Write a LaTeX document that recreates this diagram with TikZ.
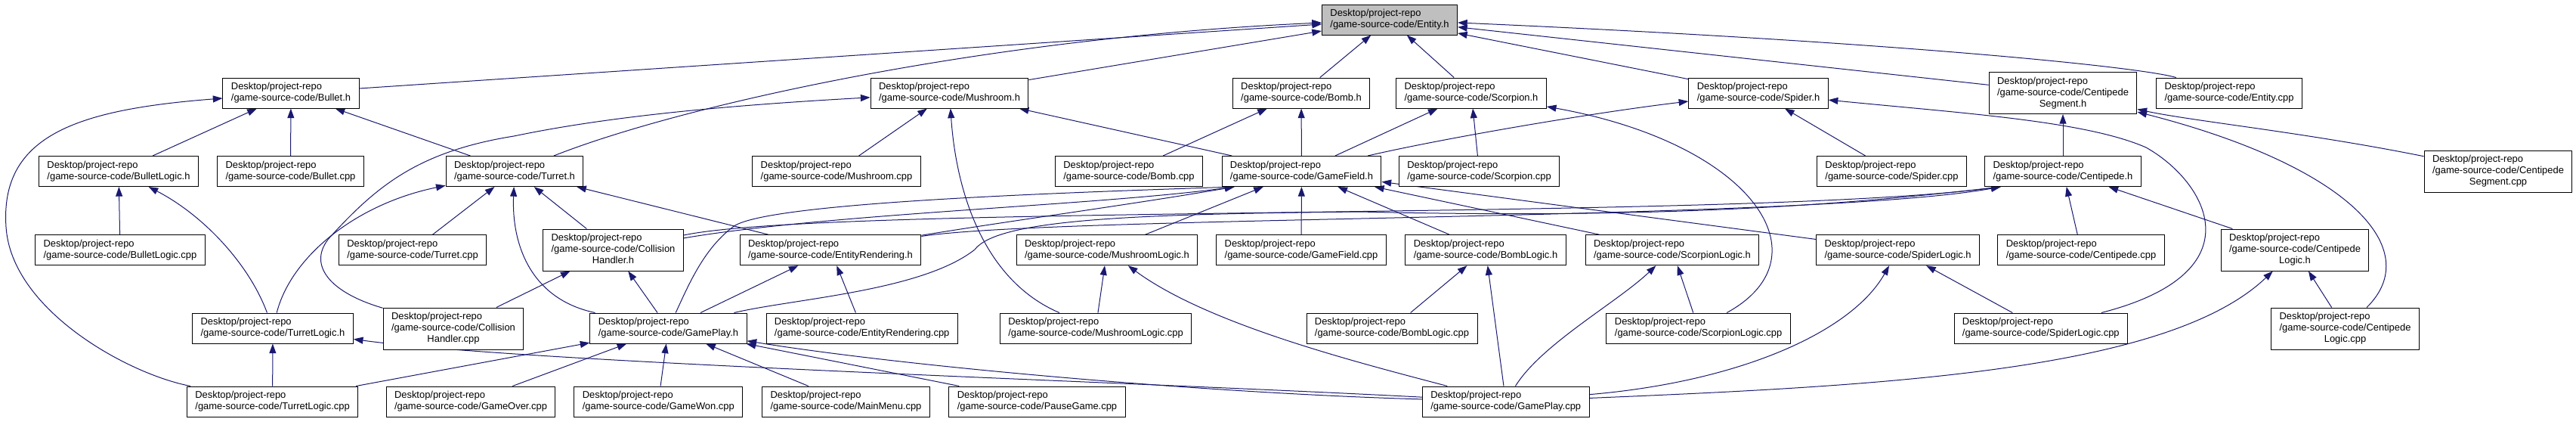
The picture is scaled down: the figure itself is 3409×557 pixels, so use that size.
\documentclass[tikz,border=0pt]{standalone}
\usepackage{fontspec}
\setmainfont{Liberation Sans}
\usetikzlibrary{arrows.meta,backgrounds}

\definecolor{edgenavy}{HTML}{191970}
\definecolor{focusgray}{HTML}{BFBFBF}

\begin{document}
\begin{tikzpicture}[x=0.75pt,y=-0.75pt]
\tikzset{
  filenode/.style={draw=black,fill=white,line width=0.75pt,inner xsep=8.2pt,inner ysep=2pt,minimum height=30pt,align=left,font=\fontsize{9.7}{11.25}\selectfont},
  tallnode/.style={draw=black,fill=white,line width=0.75pt,inner xsep=8.2pt,inner ysep=2pt,minimum height=41.25pt,font=\fontsize{9.7}{11.25}\selectfont},
  focusnode/.style={filenode,fill=focusgray},
  dep/.style={draw=edgenavy,line width=0.75pt,-{Triangle[length=9.5pt,width=6.75pt]}}
}
\useasboundingbox (0,0) rectangle (3409,557);

% row 0
\node[focusnode] (entity_h) at (1839,26) {Desktop/project-repo\\/game-source-code/Entity.h};
% row 1
\node[filenode] (bullet_h) at (385,123) {Desktop/project-repo\\/game-source-code/Bullet.h};
\node[filenode] (mushroom_h) at (1256.5,123) {Desktop/project-repo\\/game-source-code/Mushroom.h};
\node[filenode] (bomb_h) at (1722,123) {Desktop/project-repo\\/game-source-code/Bomb.h};
\node[filenode] (scorpion_h) at (1947,123) {Desktop/project-repo\\/game-source-code/Scorpion.h};
\node[filenode] (spider_h) at (2327,123) {Desktop/project-repo\\/game-source-code/Spider.h};
\node[tallnode] (centseg_h) at (2730,123) {\begin{tabular}{@{}l@{}}Desktop/project-repo\\/game-source-code/Centipede\\\multicolumn{1}{@{}c@{}}{Segment.h}\end{tabular}};
\node[filenode] (entity_cpp) at (2950,123) {Desktop/project-repo\\/game-source-code/Entity.cpp};
% row 2
\node[filenode] (bulletlogic_h) at (157,226.5) {Desktop/project-repo\\/game-source-code/BulletLogic.h};
\node[filenode] (bullet_cpp) at (384.5,226.5) {Desktop/project-repo\\/game-source-code/Bullet.cpp};
\node[filenode] (turret_h) at (681,226.5) {Desktop/project-repo\\/game-source-code/Turret.h};
\node[filenode] (mushroom_cpp) at (1107,226.5) {Desktop/project-repo\\/game-source-code/Mushroom.cpp};
\node[filenode] (bomb_cpp) at (1494,226.5) {Desktop/project-repo\\/game-source-code/Bomb.cpp};
\node[filenode] (gamefield_h) at (1722.5,226.5) {Desktop/project-repo\\/game-source-code/GameField.h};
\node[filenode] (scorpion_cpp) at (1957.5,226.5) {Desktop/project-repo\\/game-source-code/Scorpion.cpp};
\node[filenode] (spider_cpp) at (2503.5,226.5) {Desktop/project-repo\\/game-source-code/Spider.cpp};
\node[filenode] (centipede_h) at (2730,226.5) {Desktop/project-repo\\/game-source-code/Centipede.h};
\node[tallnode] (centseg_cpp) at (3306,226.5) {\begin{tabular}{@{}l@{}}Desktop/project-repo\\/game-source-code/Centipede\\\multicolumn{1}{@{}c@{}}{Segment.cpp}\end{tabular}};
% row 3
\node[filenode] (bulletlogic_cpp) at (159,330.7) {Desktop/project-repo\\/game-source-code/BulletLogic.cpp};
\node[filenode] (turret_cpp) at (546,330.7) {Desktop/project-repo\\/game-source-code/Turret.cpp};
\node[tallnode] (collision_h) at (811.5,330.5) {\begin{tabular}{@{}l@{}}Desktop/project-repo\\/game-source-code/Collision\\\multicolumn{1}{@{}c@{}}{Handler.h}\end{tabular}};
\node[filenode] (entityrendering_h) at (1099,330.7) {Desktop/project-repo\\/game-source-code/EntityRendering.h};
\node[filenode] (mushroomlogic_h) at (1465,330.7) {Desktop/project-repo\\/game-source-code/MushroomLogic.h};
\node[filenode] (gamefield_cpp) at (1722,330.7) {Desktop/project-repo\\/game-source-code/GameField.cpp};
\node[filenode] (bomblogic_h) at (1966,330.7) {Desktop/project-repo\\/game-source-code/BombLogic.h};
\node[filenode] (scorpionlogic_h) at (2213,330.7) {Desktop/project-repo\\/game-source-code/ScorpionLogic.h};
\node[filenode] (spiderlogic_h) at (2511.6,330.7) {Desktop/project-repo\\/game-source-code/SpiderLogic.h};
\node[filenode] (centipede_cpp) at (2754,330.7) {Desktop/project-repo\\/game-source-code/Centipede.cpp};
\node[tallnode] (centipedelogic_h) at (3037,330.5) {\begin{tabular}{@{}l@{}}Desktop/project-repo\\/game-source-code/Centipede\\\multicolumn{1}{@{}c@{}}{Logic.h}\end{tabular}};
% row 4
\node[filenode] (turretlogic_h) at (361,434) {Desktop/project-repo\\/game-source-code/TurretLogic.h};
\node[tallnode] (collision_cpp) at (600,434.5) {\begin{tabular}{@{}l@{}}Desktop/project-repo\\/game-source-code/Collision\\\multicolumn{1}{@{}c@{}}{Handler.cpp}\end{tabular}};
\node[filenode] (gameplay_h) at (884.5,434) {Desktop/project-repo\\/game-source-code/GamePlay.h};
\node[filenode] (entityrendering_cpp) at (1140.7,434) {Desktop/project-repo\\/game-source-code/EntityRendering.cpp};
\node[filenode] (mushroomlogic_cpp) at (1450,434) {Desktop/project-repo\\/game-source-code/MushroomLogic.cpp};
\node[filenode] (bomblogic_cpp) at (1842,434) {Desktop/project-repo\\/game-source-code/BombLogic.cpp};
\node[filenode] (scorpionlogic_cpp) at (2247.6,434) {Desktop/project-repo\\/game-source-code/ScorpionLogic.cpp};
\node[filenode] (spiderlogic_cpp) at (2700.8,434) {Desktop/project-repo\\/game-source-code/SpiderLogic.cpp};
\node[tallnode] (centipedelogic_cpp) at (3103.5,434.5) {\begin{tabular}{@{}l@{}}Desktop/project-repo\\/game-source-code/Centipede\\\multicolumn{1}{@{}c@{}}{Logic.cpp}\end{tabular}};
% row 5
\node[filenode] (turretlogic_cpp) at (360.6,531) {Desktop/project-repo\\/game-source-code/TurretLogic.cpp};
\node[filenode] (gameover_cpp) at (623,531) {Desktop/project-repo\\/game-source-code/GameOver.cpp};
\node[filenode] (gamewon_cpp) at (871.3,531) {Desktop/project-repo\\/game-source-code/GameWon.cpp};
\node[filenode] (mainmenu_cpp) at (1119.5,531) {Desktop/project-repo\\/game-source-code/MainMenu.cpp};
\node[filenode] (pausegame_cpp) at (1372.5,531) {Desktop/project-repo\\/game-source-code/PauseGame.cpp};
\node[filenode] (gameplay_cpp) at (1992.7,531) {Desktop/project-repo\\/game-source-code/GamePlay.cpp};

\begin{scope}[on background layer]
% Entity.h
\draw[dep] (bullet_h) -- (entity_h);
\draw[dep] (turret_h) .. controls (900,140) and (1300,50) .. (entity_h);
\draw[dep] (mushroom_h) -- (entity_h);
\draw[dep] (bomb_h) -- (entity_h);
\draw[dep] (scorpion_h) -- (entity_h);
\draw[dep] (spider_h) -- (entity_h);
\draw[dep] (centseg_h) -- (entity_h);
\draw[dep] (entity_cpp) .. controls (2830,88) and (2500,55) .. (entity_h);
% Bullet.h, BulletLogic.h
\draw[dep] (bulletlogic_h) -- (bullet_h);
\draw[dep] (bullet_cpp) -- (bullet_h);
\draw[dep] (turret_h) -- (bullet_h);
\draw[dep] (turretlogic_cpp) .. controls (170,495) and (15,410) .. (8,300) .. controls (0,180) and (100,145) .. (bullet_h);
\draw[dep] (bulletlogic_cpp) -- (bulletlogic_h);
\draw[dep] (turretlogic_h) .. controls (330,350) and (270,285) .. (bulletlogic_h);
% Turret.h
\draw[dep] (turretlogic_h) .. controls (385,340) and (470,270) .. (turret_h);
\draw[dep] (turret_cpp) -- (turret_h);
\draw[dep] (gameplay_h) .. controls (700,395) and (677,320) .. (turret_h);
\draw[dep] (collision_h) -- (turret_h);
\draw[dep] (entityrendering_h) -- (turret_h);
% Mushroom.h
\draw[dep] (collision_cpp) .. controls (430,385) and (405,345) .. (440,310) .. controls (500,245) and (555,200) .. (680,180) .. controls (800,155) and (950,140) .. (mushroom_h);
\draw[dep] (mushroom_cpp) -- (mushroom_h);
\draw[dep] (mushroomlogic_cpp) .. controls (1300,370) and (1265,250) .. (mushroom_h);
\draw[dep] (gamefield_h) -- (mushroom_h);
% Bomb.h, Scorpion.h, Spider.h
\draw[dep] (bomb_cpp) -- (bomb_h);
\draw[dep] (gamefield_h) -- (bomb_h);
\draw[dep] (gamefield_h) -- (scorpion_h);
\draw[dep] (scorpion_cpp) -- (scorpion_h);
\draw[dep] (scorpionlogic_cpp) .. controls (2420,340) and (2320,190) .. (scorpion_h);
\draw[dep] (gamefield_h) .. controls (1900,185) and (2100,150) .. (spider_h);
\draw[dep] (spider_cpp) -- (spider_h);
\draw[dep] (spiderlogic_cpp) .. controls (2990,360) and (2920,240) .. (2840,195) .. controls (2760,160) and (2600,150) .. (spider_h);
% Centipede
\draw[dep] (centipede_h) -- (centseg_h);
\draw[dep] (centseg_cpp) .. controls (3050,175) and (2900,160) .. (centseg_h);
\draw[dep] (centipedelogic_cpp) .. controls (3210,330) and (3110,220) .. (centseg_h);
\draw[dep] (centipede_cpp) -- (centipede_h);
\draw[dep] (centipedelogic_h) -- (centipede_h);
\draw[dep] (centipedelogic_cpp) -- (centipedelogic_h);
\draw[dep] (collision_h) .. controls (1100,270) and (2300,292) .. (centipede_h.-166);
\draw[dep] (entityrendering_h) .. controls (1400,285) and (2400,292) .. (centipede_h.-166);
\draw[dep] (gameplay_h) .. controls (1050,395) and (1220,385) .. (1290,330) .. controls (1320,290) and (1500,283) .. (1800,280) .. controls (2200,290) and (2450,270) .. (centipede_h.-166);
% GameField.h
\draw[dep] (gamefield_cpp) -- (gamefield_h);
\draw[dep] (bomblogic_h) -- (gamefield_h);
\draw[dep] (scorpionlogic_h) -- (gamefield_h);
\draw[dep] (spiderlogic_h) -- (gamefield_h);
\draw[dep] (mushroomlogic_h) -- (gamefield_h);
\draw[dep] (collision_h) .. controls (1100,282) and (1450,272) .. (gamefield_h.-167);
\draw[dep] (entityrendering_h) .. controls (1350,290) and (1500,270) .. (gamefield_h.-167);
\draw[dep] (gameplay_h) .. controls (910,380) and (930,330) .. (970,300) .. controls (1010,268) and (1400,255) .. (gamefield_h.-167);
% CollisionHandler, EntityRendering, logic headers
\draw[dep] (collision_cpp) -- (collision_h);
\draw[dep] (gameplay_h) -- (collision_h);
\draw[dep] (gameplay_h) -- (entityrendering_h);
\draw[dep] (entityrendering_cpp) -- (entityrendering_h);
\draw[dep] (mushroomlogic_cpp) -- (mushroomlogic_h);
\draw[dep] (gameplay_cpp) .. controls (1800,480) and (1600,430) .. (mushroomlogic_h);
\draw[dep] (bomblogic_cpp) -- (bomblogic_h);
\draw[dep] (gameplay_cpp) -- (bomblogic_h);
\draw[dep] (scorpionlogic_cpp) -- (scorpionlogic_h);
\draw[dep] (gameplay_cpp) .. controls (2040,455) and (2140,400) .. (scorpionlogic_h);
\draw[dep] (spiderlogic_cpp) -- (spiderlogic_h);
\draw[dep] (gameplay_cpp) .. controls (2300,505) and (2450,440) .. (spiderlogic_h);
\draw[dep] (gameplay_cpp) .. controls (2500,510) and (2870,490) .. (centipedelogic_h);
% TurretLogic.h, GamePlay.h
\draw[dep] (turretlogic_cpp) -- (turretlogic_h);
\draw[dep] (gameplay_cpp) .. controls (1500,505) and (700,480) .. (turretlogic_h);
\draw[dep] (turretlogic_cpp) -- (gameplay_h);
\draw[dep] (gameover_cpp) -- (gameplay_h);
\draw[dep] (gamewon_cpp) -- (gameplay_h);
\draw[dep] (mainmenu_cpp) -- (gameplay_h);
\draw[dep] (pausegame_cpp) -- (gameplay_h);
\draw[dep] (gameplay_cpp) .. controls (1600,520) and (1200,485) .. (gameplay_h);
\end{scope}
\end{tikzpicture}
\end{document}
